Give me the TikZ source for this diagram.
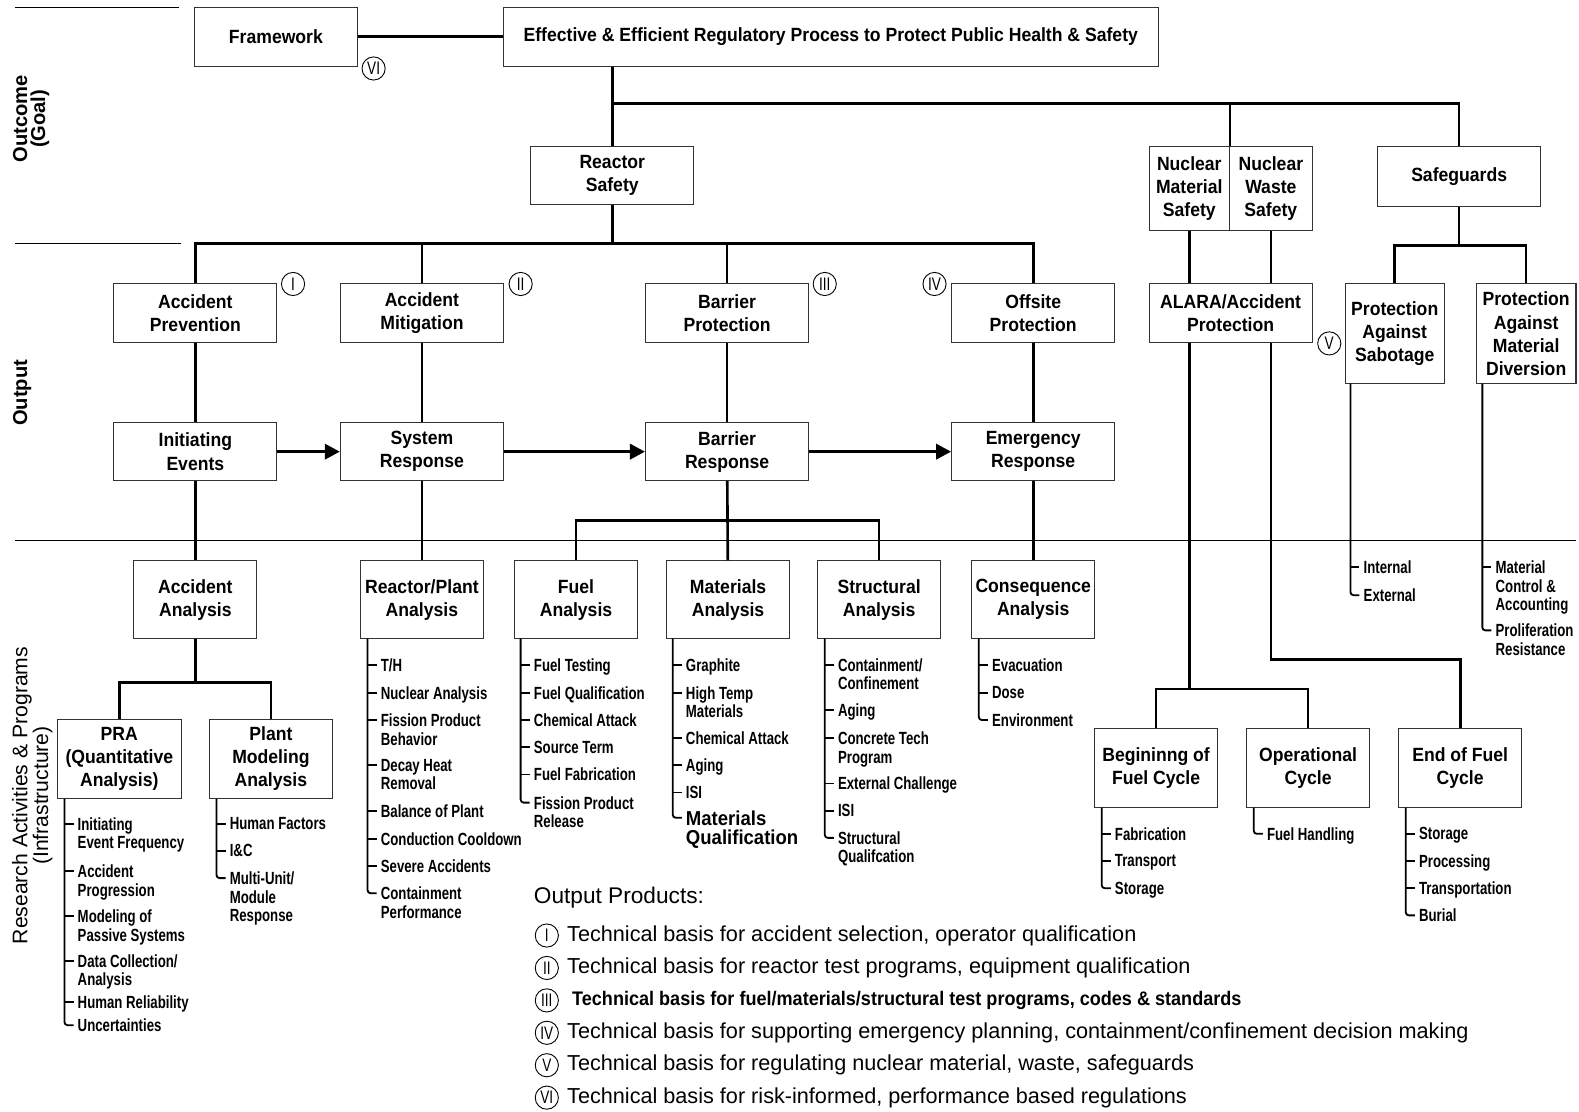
\documentclass[tikz,border=0pt]{standalone}
\usepackage{fontspec}
\setmainfont{Liberation Sans}
\newfontfamily\boxfam[FakeStretch=0.92]{Liberation Sans}
\newfontfamily\itemfam[FakeStretch=0.75]{Liberation Sans}
\newfontfamily\prodfam[FakeStretch=0.9]{Liberation Sans}
\usetikzlibrary{arrows.meta,calc}

% list under a box: prefix, trunk x, top y, text/y pairs, last text, last y
\newcommand\itemlist[6]{%
  \foreach \t/\y [count=\i] in {#4}{
    \node[item] (#1\i) at (#2+13,\y) {\t};
    \draw[tick] (#2,\y) -- ([xshift=-4pt,yshift=-6.5pt]#1\i.north west);
  }
  \node[item] (#1last) at (#2+13,#6) {#5};
  \draw[tick,rounded corners=3pt] (#2,#3) |- ([xshift=-4pt,yshift=-6.5pt]#1last.north west);
}

\begin{document}
\begin{tikzpicture}[x=1pt,y=-1pt]
    \tikzset{box/.style={draw=black!80,line width=1pt,fill=white,align=center,inner sep=0pt,
                font=\boxfam\bfseries\fontsize{19}{23}\selectfont},
            link/.style={line width=2.6pt},
            flow/.style={line width=3.4pt,-{Triangle[length=15pt,width=15pt]}},
            tick/.style={line width=1.8pt},
            item/.style={anchor=north west,inner sep=0pt,yshift=6.5pt,align=left,
                font=\itemfam\bfseries\fontsize{17.5}{18.5}\selectfont},
            numc/.style={circle,draw,line width=0.9pt,inner sep=0pt,minimum size=23pt,fill=white,
                font=\itemfam\fontsize{18}{18}\selectfont},
            sepline/.style={line width=1pt},
            side/.style={rotate=90,align=center}}
    \useasboundingbox (0,0) rectangle (1568,1104);

    % rows
    \draw[sepline] (15,7) -- (178,7);
    \draw[sepline] (15,242) -- (180,242);
    \draw[sepline] (15,537) -- (1565,537);
    \node[side,font=\bfseries\fontsize{20}{18}\selectfont] (lblgoal) at (31,118) {Outcome\\(Goal)};
    \node[side,font=\bfseries\fontsize{20}{18}\selectfont] (lblout) at (22,390) {Output};
    \node[side,font=\fontsize{21}{17}\selectfont] (lblres) at (32,790) {Research Activities \& Programs\\(Infrastructure)};

    % outcome
    \node[box,minimum width=162,minimum height=59] (frame) at (274,36.5) {Framework};
    \node[box,minimum width=650,minimum height=59] (goal) at (825,36.5) {Effective \& Efficient Regulatory Process to Protect Public Health \& Safety};
    \node[box,minimum width=162,minimum height=58] (reactor) at (608,174) {Reactor\\Safety};
    \node[box,minimum width=80,minimum height=84] (nms) at (1181,187) {Nuclear\\Material\\Safety};
    \node[box,minimum width=82,minimum height=84] (nws) at (1262,187) {Nuclear\\Waste\\Safety};
    \node[box,minimum width=162,minimum height=60] (safeg) at (1449,175) {Safeguards};

    % output
    \node[box,minimum width=162,minimum height=58] (accprev) at (194,311) {Accident\\Prevention};
    \node[box,minimum width=162,minimum height=58] (accmit) at (419,311) {Accident\\Mitigation};
    \node[box,minimum width=162,minimum height=58] (barprot) at (722,311) {Barrier\\Protection};
    \node[box,minimum width=162,minimum height=58] (offprot) at (1026,311) {Offsite\\Protection};
    \node[box,minimum width=162,minimum height=58] (alara) at (1222,311) {ALARA/Accident\\Protection};
    \node[box,minimum width=98,minimum height=99] (sabot) at (1385,331.5) {Protection\\Against\\Sabotage};
    \node[box,minimum width=99,minimum height=99] (divers) at (1515.5,331.5) {Protection\\Against\\Material\\Diversion};
    \node[box,minimum width=162,minimum height=57] (initev) at (194,448.5) {Initiating\\Events};
    \node[box,minimum width=162,minimum height=57] (sysresp) at (419,448.5) {System\\Response};
    \node[box,minimum width=162,minimum height=57] (barresp) at (722,448.5) {Barrier\\Response};
    \node[box,minimum width=162,minimum height=57] (emresp) at (1026,448.5) {Emergency\\Response};

    % research
    \node[box,minimum width=122,minimum height=77] (accan) at (194,595.5) {Accident\\Analysis};
    \node[box,minimum width=122,minimum height=77] (rpan) at (419,595.5) {Reactor/Plant\\Analysis};
    \node[box,minimum width=122,minimum height=77] (fuelan) at (572,595.5) {Fuel\\Analysis};
    \node[box,minimum width=122,minimum height=77] (matan) at (723,595.5) {Materials\\Analysis};
    \node[box,minimum width=122,minimum height=77] (structan) at (873,595.5) {Structural\\Analysis};
    \node[box,minimum width=122,minimum height=77] (consan) at (1026,595.5) {Consequence\\Analysis};
    \node[box,minimum width=123,minimum height=79] (pra) at (118.5,753.5) {PRA\\(Quantitative\\Analysis)};
    \node[box,minimum width=122,minimum height=79] (plant) at (269,753.5) {Plant\\Modeling\\Analysis};
    \node[box,minimum width=122,minimum height=79] (begin) at (1148,762.5) {Begininng of\\Fuel Cycle};
    \node[box,minimum width=122,minimum height=79] (oper) at (1299,762.5) {Operational\\Cycle};
    \node[box,minimum width=122,minimum height=79] (endfc) at (1450,762.5) {End of Fuel\\Cycle};

    % tree
    \draw[link] (frame) -- (goal);
    \draw[link] (goal.south -| reactor.north) -- (reactor.north);
    \draw[link] (reactor.north |- 0,103) -| (safeg.north);
    \draw[link] (nms.north east) -- (nms.north east |- 0,103);
    \draw[link] (reactor.south) -- ++(0,39);
    \draw[link] (accprev.north) -- ++(0,-40) -| (offprot.north);
    \draw[link] (accmit.north) -- ++(0,-40);
    \draw[link] (barprot.north) -- ++(0,-40);
    \foreach \a/\b/\c in {accprev/initev/accan,accmit/sysresp/rpan,barprot/barresp/matan,offprot/emresp/consan}
        {\draw[link] (\a) -- (\b); \draw[link] (\b) -- (\c);}
    \draw[link] (fuelan.north) |- (barresp.south |- 0,517) -| (structan.north);
    \draw[link] (accan.south) -- ++(0,43) coordinate (ja);
    \draw[link] (pra.north) |- (ja) -| (plant.north);
    \draw[flow] (initev) -- (sysresp);
    \draw[flow] (sysresp) -- (barresp);
    \draw[flow] (barresp) -- (emresp);
    \draw[link] (nms.south) -- (nms.south |- alara.north);
    \draw[link] (nws.south) -- (nws.south |- alara.north);
    \draw[link] (nms.south |- alara.south) -- (nms.south |- 0,684) coordinate (jb);
    \draw[link] (begin.north) |- (jb) -| (oper.north);
    \draw[link] (nws.south |- alara.south) |- (endfc.north |- 0,655) -- (endfc.north);
    \draw[link] (safeg.south) -- ++(0,38) coordinate (js);
    \draw[link] (sabot.north) |- (js) -| (divers.north);

    % output products marks
    \node[numc] (mI) at (291,282) {I};
    \node[numc] (mII) at (517,282) {II};
    \node[numc] (mIII) at (819,282) {III};
    \node[numc] (mIV) at (928,282) {IV};
    \node[numc] (mV) at (1320,341) {V};
    \node[numc] (mVI) at (371,68) {VI};

    % lists
    \itemlist{prai}{64}{793}{{Initiating\\Event Frequency}/818,{Accident\\Progression}/865,{Modeling of\\Passive Systems}/910,{Data Collection/\\Analysis}/954,{Human Reliability}/995}{Uncertainties}{1018}
    \itemlist{plai}{215}{793}{{Human Factors}/818,{I\&C}/845}{Multi-Unit/\\Module\\Response}{872}
    \itemlist{rpi}{365}{634}{{T/H}/660,{Nuclear Analysis}/688,{Fission Product\\Behavior}/715,{Decay Heat\\Removal}/760,{Balance of Plant}/805,{Conduction Cooldown}/833,{Severe Accidents}/860}{Containment\\Performance}{887}
    \itemlist{fui}{517}{634}{{Fuel Testing}/660,{Fuel Qualification}/688,{Chemical Attack}/715,{Source Term}/742,{Fuel Fabrication}/769}{Fission Product\\Release}{797}
    \itemlist{mai}{668}{634}{{Graphite}/660,{High Temp\\Materials}/688,{Chemical Attack}/733,{Aging}/760,{ISI}/787}{\boxfam\bfseries\fontsize{20}{23}\selectfont Materials\\\boxfam\bfseries\fontsize{20}{23}\selectfont Qualification}{812}
    \itemlist{sti}{819}{634}{{Containment/\\Confinement}/660,{Aging}/705,{Concrete Tech\\Program}/733,{External Challenge}/778,{ISI}/805}{Structural\\Qualifcation}{832}
    \itemlist{coi}{972}{634}{{Evacuation}/660,{Dose}/688}{Environment}{715}
    \itemlist{bei}{1094}{802}{{Fabrication}/828,{Transport}/855}{Storage}{882}
    \node[item] (opi) at (1258,828) {Fuel Handling};
    \draw[tick,rounded corners=3pt] (1245,802) |- ([xshift=-4pt,yshift=-6.5pt]opi.north west);
    \itemlist{eni}{1396}{802}{{Storage}/828,{Processing}/855,{Transportation}/882}{Burial}{909}
    \itemlist{sai}{1341}{381}{{Internal}/563}{External}{591}
    \itemlist{dii}{1472}{381}{{Material\\Control \&\\Accounting}/563}{Proliferation\\Resistance}{626}

    % legend
    \node[anchor=west,inner sep=0pt,font=\fontsize{22.5}{24}\selectfont] (ophead) at (530,891) {Output Products:};
    \foreach \r/\t [count=\i] in {I/{Technical basis for accident selection, operator qualification},
            II/{Technical basis for reactor test programs, equipment qualification},
            III/{\boxfam\bfseries\fontsize{19.5}{20}\selectfont\ Technical basis for fuel/materials/structural test programs, codes \& standards},
            IV/{Technical basis for supporting emergency planning, containment/confinement decision making},
            V/{Technical basis for regulating nuclear material, waste, safeguards},
            VI/{Technical basis for risk-informed, performance based regulations}}
        {\node[numc] (op\i) at (543,929+32.2*\i-32.2) {\r};
         \node[anchor=west,inner sep=0pt,font=\fontsize{21.5}{24}\selectfont] (opt\i) at (563,929+32.2*\i-32.2) {\t};}
\end{tikzpicture}
\end{document}
